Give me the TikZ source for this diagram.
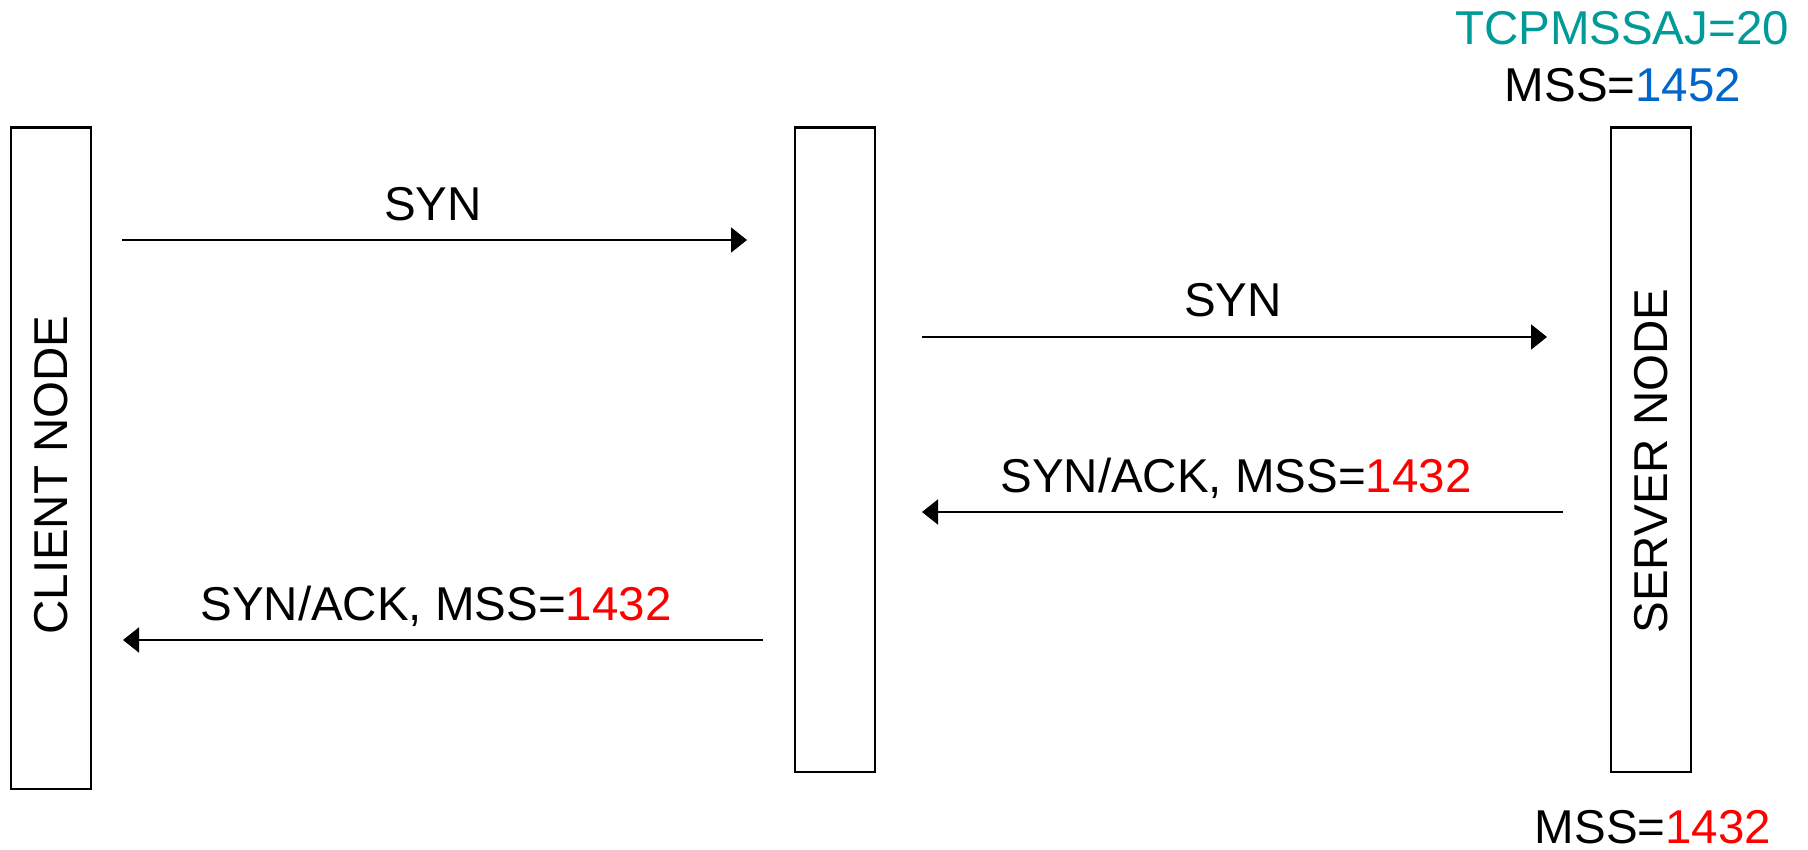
\documentclass[tikz,border=0pt]{standalone}
\usepackage{fontspec}
\setmainfont{Liberation Sans}
\usetikzlibrary{arrows.meta}
\definecolor{tealtxt}{HTML}{009B98}
\definecolor{bluetxt}{HTML}{0066CC}
\definecolor{redtxt}{HTML}{FF0000}
\begin{document}
\begin{tikzpicture}[x=1pt,y=-1pt,
  lane/.style={draw=black, line width=2.5pt, inner sep=0pt, minimum width=80pt},
  msg/.style={line width=2pt, -{Triangle[length=16pt,width=25pt]}},
  lbl/.style={font=\fontsize{47.5}{57}\selectfont, inner sep=0pt, anchor=base},
  vlbl/.style={font=\fontsize{47.5}{57}\selectfont, inner sep=0pt, rotate=90}]
\useasboundingbox (0,0) rectangle (1808,850);
% lanes
\node[lane, minimum height=661.5pt] (client) at (51,458.25) {};
\node[lane, minimum height=644.5pt] (mid) at (835,449.75) {};
\node[lane, minimum height=644.5pt] (server) at (1651,449.75) {};
\node[vlbl] (clientlbl) at (51.5,475) {CLIENT NODE};
\node[vlbl] (serverlbl) at (1651.5,461) {SERVER NODE};
% arrow end points
\coordinate (a1s) at (122,240);
\coordinate (a1e) at (747,240);
\coordinate (a2s) at (922,337);
\coordinate (a2e) at (1547,337);
\coordinate (a3s) at (1563,512);
\coordinate (a3e) at (922,512);
\coordinate (a4s) at (763,640);
\coordinate (a4e) at (123,640);
\draw[msg] (a1s) -- (a1e);
\draw[msg] (a2s) -- (a2e);
\draw[msg] (a3s) -- (a3e);
\draw[msg] (a4s) -- (a4e);
% labels
\node[lbl] (l1) at (433,221) {SYN};
\node[lbl] (l2) at (1233,317) {SYN};
\node[lbl] (l3) at (1236,492) {SYN/ACK, MSS=\textcolor{redtxt}{1432}};
\node[lbl] (l4) at (436,620) {SYN/ACK, MSS=\textcolor{redtxt}{1432}};
\node[lbl, text=tealtxt] (adj) at (1622,45) {TCPMSSAJ=20};
\node[lbl] (mss1) at (1623,101.5) {MSS=\textcolor{bluetxt}{1452}};
\node[lbl] (mss2) at (1653,843) {MSS=\textcolor{redtxt}{1432}};
\end{tikzpicture}
\end{document}
